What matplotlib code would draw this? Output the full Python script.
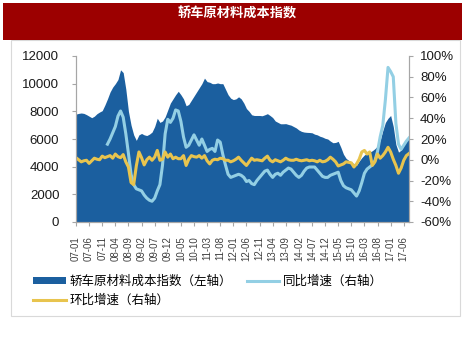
'''
轿车原材料成本指数 - area (left axis) with YoY / MoM growth lines (right axis)
'''
import matplotlib
matplotlib.use('Agg')
import matplotlib.pyplot as plt
from matplotlib.patches import Rectangle, Patch
from matplotlib.lines import Line2D
import numpy as np

#%%
# data, monthly 2007-01 .. 2017-08
cost_index = [7800, 7850, 7880, 7850, 7760, 7650, 7540, 7650, 7830, 7950,
              8050, 8450, 8900, 9400, 9750, 10000, 10300, 11000, 10800, 9600,
              8000, 7000, 6300, 5900, 6300, 6400, 6300, 6250, 6350, 6500,
              6900, 7500, 7200, 7300, 7600, 8100, 8600, 8900, 9200, 9450,
              9200, 8900, 8400, 8500, 8800, 9100, 9400, 9700, 10000, 10400,
              10150, 10100, 10000, 10000, 10050, 10000, 10000, 9600, 9200, 8950,
              8850, 8900, 9050, 8900, 8600, 8200, 8000, 7750, 7700, 7700,
              7700, 7680, 7750, 7830, 7700, 7550, 7300, 7200, 7100, 7100,
              7110, 7050, 7000, 6900, 6800, 6650, 6550, 6500, 6480, 6470,
              6450, 6350, 6300, 6200, 6140, 6050, 6000, 5850, 5730, 5750,
              5830, 5400, 4900, 4600, 4450, 4350, 4200, 4100, 4400, 4650,
              4850, 4950, 5050, 5150, 5300, 5500, 5900, 6600, 7200, 7500,
              7700, 6900, 5600, 5050, 5200, 5600, 5950, 6200]

yoy_pct = [np.nan] * 12 + [
    15, 20, 26, 32, 42, 47, 41, 25, 6, -14,
    -24, -28, -29, -30, -34, -37, -39, -40, -37, -30,
    -24, -5, 25, 39, 36, 40, 48, 47, 37, 22,
    12, 14, 19, 24, 19, 14, 20, 14, 8, 10,
    11, 8, 19, 17, 5, -5, -14, -17, -16, -15,
    -14, -15, -17, -21, -20, -23, -24, -20, -17, -14,
    -11, -10, -14, -17, -14, -13, -15, -12, -10, -8,
    -9, -12, -15, -17, -15, -11, -8, -7, -7, -7,
    -10, -13, -16, -17, -17, -15, -14, -13, -12, -20,
    -25, -27, -28, -29, -32, -35, -30, -22, -13, -9,
    -7, -5, -1, 8, 22, 33, 58, 89, 85, 80,
    35, 15, 10, 14, 18, 21]

mom_pct = [2, 0, -2, -1, -0.5, -3.5, -1, 1.5, 0.5, 0,
           3.5, 2, 3, 4, 1.5, 5.5, 3, 2, 5, -2,
           -7, -22, -24, -6, 7.5, 2, -5, 0, 2.5, -0.5,
           2.5, 9, -0.5, 0.5, 7.5, 2.5, 5.5, 1, 2.5, 1,
           1, 4, -5.5, 0.5, 4, 3, 2.5, 4, 1.5, 4,
           -1, -4, -0.5, 0.5, 0, 1.5, 1, -0.5, -0.5, -2,
           -1, 0.5, 2.5, -0.5, -3, -5.5, -2, 1.5, -0.5, 0,
           -0.5, -1, 1.5, 3.5, -0.5, -2, 0, -1, -2, -0.5,
           1.5, 0, -0.5, -0.5, 0.5, -0.5, -1, -0.5, 0, -1,
           -0.5, -1, -2, -0.5, -2, -1.5, 0, 2.5, 0.5, -2,
           -6, -5, -4, -2, -2.5, -3, -7, -4, 0.5, 7.5,
           9, 5.5, 7.5, -5.5, -2, 5.5, 1.5, 4, 7.5, 12,
           7.5, 0.5, -5.5, -13, -8, -0.5, 4, 6]

tick_labels = ['07-01', '07-06', '07-11', '08-04', '08-09', '09-02', '09-07',
               '09-12', '10-05', '10-10', '11-03', '11-08', '12-01', '12-06',
               '12-11', '13-04', '13-09', '14-02', '14-07', '14-12', '15-05',
               '15-10', '16-03', '16-08', '17-01', '17-06']

title = '轿车原材料成本指数'
labels = ['轿车原材料成本指数（左轴）', '同比增速（右轴）', '环比增速（右轴）']

#%%
# plot
c_area = '#1b5f9f'
c_yoy = '#93cfe4'
c_mom = '#e8c44e'
grey = '#a6a6a6'

W, H = 474, 356
fig = plt.figure(figsize=(W / 100, H / 100), dpi=100)
fig.patch.set_facecolor('white')

# outer box + title band
fig.patches.append(Rectangle((11 / W, (H - 316) / H), 449 / W, 276 / H,
                             transform=fig.transFigure, facecolor='white',
                             edgecolor='#d9d9d9', lw=0.8, zorder=-2))
fig.patches.append(Rectangle((3 / W, (H - 40) / H), 459 / W, 37 / H,
                             transform=fig.transFigure, facecolor='#9c0000',
                             edgecolor='none', zorder=-1))
fig.text(237 / W, (H - 14) / H, title, color='white', fontsize=9.5,
         fontweight='bold', family=['Noto Sans CJK SC', 'DejaVu Sans'],
         ha='center', va='center')

x = np.arange(len(cost_index))
ax = fig.add_axes([76 / W, (H - 222) / H, 333 / W, 166 / H])
ax.set_zorder(2)
ax.fill_between(x, cost_index, 0, color=c_area, lw=0)
ax.set_xlim(0, len(cost_index) - 1)
ax.set_ylim(0, 12000)
ax.set_yticks(range(0, 12001, 2000))
ax.set_xticks(x[::5])
ax.set_xticklabels(tick_labels, rotation=90, fontsize=7, color='#404040',
                   family='Liberation Sans')

ax2 = ax.twinx()
ax2.set_zorder(3)
ax2.patch.set_visible(False)
ax2.plot(x, np.array(yoy_pct) / 100, color=c_yoy, lw=2.2)
ax2.plot(x, np.array(mom_pct) / 100, color=c_mom, lw=2.2)
ax2.set_ylim(-0.6, 1.0)
ax2.set_yticks(np.arange(-0.6, 1.01, 0.2))
ax2.set_yticklabels([f'{int(round(v * 100))}%' for v in np.arange(-0.6, 1.01, 0.2)])

for a in (ax, ax2):
    a.spines['top'].set_visible(False)
    for s in ('left', 'right', 'bottom'):
        a.spines[s].set_color(grey)
        a.spines[s].set_linewidth(0.8)
    a.tick_params(axis='y', colors=grey, labelcolor='#1a1a1a', labelsize=9.5,
                  length=3, width=0.8)
    for t in a.get_yticklabels():
        t.set_family('Liberation Sans')
ax.tick_params(axis='y', pad=9)
ax2.tick_params(axis='y', pad=5)
ax.tick_params(axis='x', colors=grey, labelcolor='#404040', length=3,
               width=0.8, pad=7)

handles = [Patch(facecolor=c_area, edgecolor='none'),
           Line2D([], [], color=c_mom, lw=2.2),
           Line2D([], [], color=c_yoy, lw=2.2)]
fig.legend(handles, [labels[0], labels[2], labels[1]], ncol=2,
           loc='upper left', bbox_to_anchor=(33 / W, (H - 275) / H),
           frameon=False, borderpad=0, borderaxespad=0,
           handlelength=2.6, handleheight=0.5, handletextpad=0.3,
           columnspacing=1.2, labelspacing=0.45,
           prop={'family': ['Noto Sans CJK SC', 'DejaVu Sans'], 'size': 9})

plt.savefig('out.png', dpi=100, facecolor='white')
